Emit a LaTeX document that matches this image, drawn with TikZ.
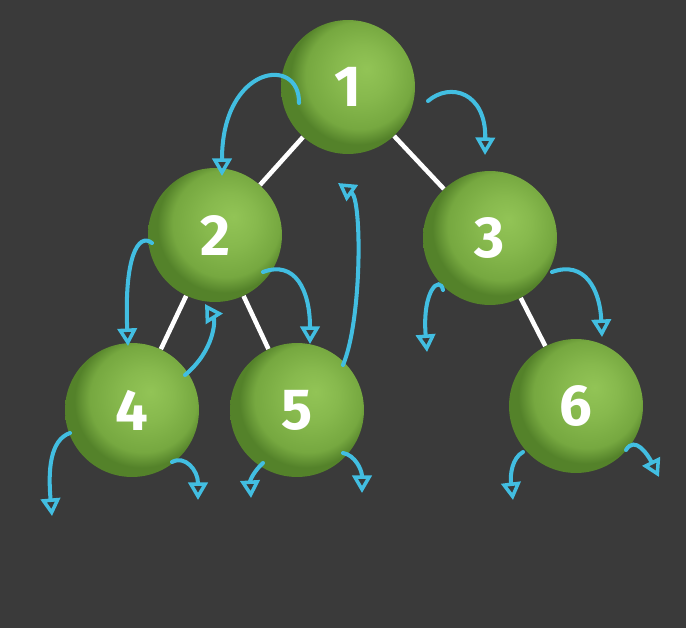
\documentclass[tikz,border=0pt]{standalone}
\usepackage{fontspec}
\setsansfont{Fira Sans}
\usetikzlibrary{arrows.meta}
\definecolor{board}{RGB}{58,58,58}
\definecolor{ballhi}{RGB}{146,196,86}
\definecolor{ballmid}{RGB}{118,168,64}
\definecolor{balledge}{RGB}{84,130,42}
\definecolor{chalkblue}{RGB}{66,190,225}
\pgfdeclareradialshading{greenball}{\pgfpoint{7bp}{7bp}}{color(0bp)=(ballhi); color(10bp)=(ballhi!60!ballmid); color(20bp)=(ballmid); color(25bp)=(balledge); color(50bp)=(balledge)}
\tikzset{
  ball/.style={circle, minimum size=2.68cm, shading=greenball, text=white, font=\sffamily\bfseries\fontsize{33}{36}\selectfont},
  edge/.style={white, line width=2.6pt},
  walk/.style={chalkblue, line width=2.3pt, line cap=round, -{Triangle[open, length=10pt, width=11pt, line width=2pt]}}
}
\begin{document}
\begin{tikzpicture}[x=0.02cm, y=-0.02cm]
		\fill[board] (0,0) rectangle (686,628);
		\node[ball] (n1) at (348,87) {1};
		\node[ball] (n2) at (215,235) {2};
		\node[ball] (n3) at (490,238) {3};
		\node[ball] (n4) at (132,410) {4};
		\node[ball] (n5) at (297,410) {5};
		\node[ball] (n6) at (576,406) {6};
		\draw[edge] (n1) -- (n2);
		\draw[edge] (n1) -- (n3);
		\draw[edge] (n2) -- (n4);
		\draw[edge] (n2) -- (n5);
		\draw[edge] (n3) -- (n6);
		\draw[walk] (299,103) .. controls (300,55) and (222,65) .. (222,176);
		\draw[walk] (428,101) .. controls (450,82) and (486,92) .. (485,155);
		\draw[walk] (343,365) .. controls (362,320) and (362,200) .. (338,183);
		\draw[walk] (152,243) .. controls (138,232) and (124,258) .. (128,346);
		\draw[walk] (185,375) .. controls (215,350) and (215,320) .. (205,304);
		\draw[walk] (263,272) .. controls (295,260) and (310,290) .. (310,344);
		\draw[walk] (70,433) .. controls (50,440) and (48,470) .. (52,516);
		\draw[walk] (172,462) .. controls (185,455) and (198,470) .. (198,500);
		\draw[walk] (263,463) .. controls (255,470) and (250,480) .. (251,498);
		\draw[walk] (343,453) .. controls (355,455) and (362,470) .. (362,493);
		\draw[walk] (443,290) .. controls (440,275) and (422,290) .. (427,352);
		\draw[walk] (552,272) .. controls (585,260) and (600,290) .. (602,337);
		\draw[walk] (523,452) .. controls (512,458) and (510,475) .. (513,500);
		\draw[walk] (626,450) .. controls (635,435) and (648,455) .. (659,477);
\end{tikzpicture}
\end{document}
